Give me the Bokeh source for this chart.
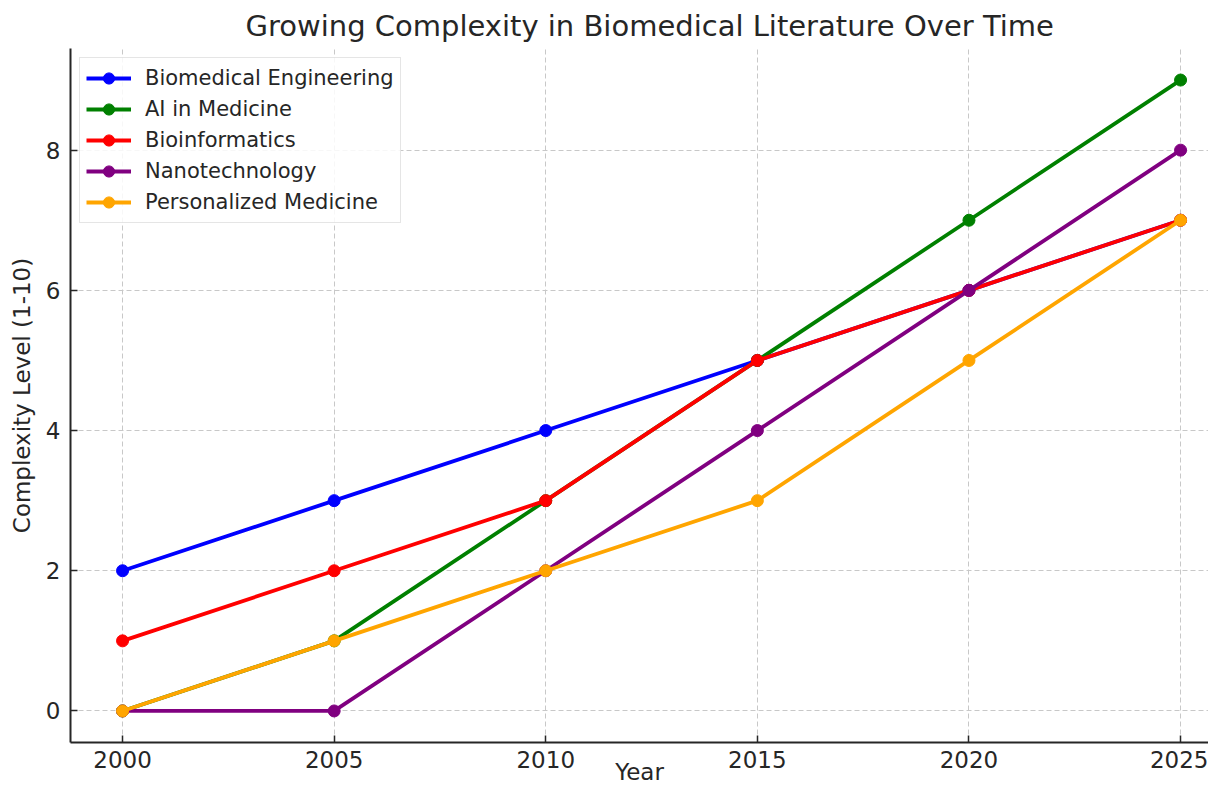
from bokeh.plotting import figure
from bokeh.models import Range1d, FixedTicker, Legend, LegendItem
from bokeh.embed import file_html
from bokeh.resources import INLINE

years = [2000, 2005, 2010, 2015, 2020, 2025]
biomedical_engineering = [2, 3, 4, 5, 6, 7]
ai_in_medicine = [0, 1, 3, 5, 7, 9]
bioinformatics = [1, 2, 3, 5, 6, 7]
nanotechnology = [0, 0, 2, 4, 6, 8]
personalized_medicine = [0, 1, 2, 3, 5, 7]

series = [
    ("Biomedical Engineering", biomedical_engineering, "#0000FF"),
    ("AI in Medicine", ai_in_medicine, "#008000"),
    ("Bioinformatics", bioinformatics, "#FF0000"),
    ("Nanotechnology", nanotechnology, "#800080"),
    ("Personalized Medicine", personalized_medicine, "#FFA500"),
]

FONT = "DejaVu Sans"
TXT = "#262626"

p = figure(width=1208, height=787, output_backend="svg", toolbar_location=None,
           x_range=Range1d(1998.77, 2025.66), y_range=Range1d(-0.45, 9.45),
           min_border_left=70, min_border_right=0, min_border_top=48, min_border_bottom=45)

p.title.text = "Growing Complexity in Biomedical Literature Over Time"
p.title.align = "left"
p.title.offset = 175
p.title.text_font = FONT
p.title.text_font_size = "29px"
p.title.text_font_style = "normal"
p.title.text_color = TXT
p.title.standoff = 12

p.outline_line_color = None
p.background_fill_color = "white"
p.border_fill_color = "white"

items = []
for name, vals, col in series:
    r1 = p.line(years, vals, line_color=col, line_width=3.8)
    r2 = p.scatter(years, vals, size=12, fill_color=col, line_color=col)
    items.append(LegendItem(label=name, renderers=[r1, r2]))

legend = Legend(items=items, location="top_left")
legend.label_text_font = FONT
legend.label_text_font_size = "21px"
legend.label_text_color = TXT
legend.glyph_width = 45
legend.glyph_height = 28
legend.label_height = 28
legend.spacing = 3
legend.padding = 6
legend.margin = 9
legend.label_standoff = 14
legend.border_line_color = "#cccccc"
legend.border_line_width = 1.5
legend.background_fill_alpha = 0.85
p.add_layout(legend)

for ax in (p.xaxis[0], p.yaxis[0]):
    ax.axis_line_color = TXT
    ax.axis_line_width = 2
    ax.major_tick_line_color = TXT
    ax.major_tick_line_width = 1.5
    ax.major_tick_in = 7
    ax.major_tick_out = 0
    ax.minor_tick_line_color = None
    ax.major_label_text_font = FONT
    ax.major_label_text_font_size = "23px"
    ax.major_label_text_color = TXT
    ax.axis_label_text_font = FONT
    ax.axis_label_text_font_size = "23px"
    ax.axis_label_text_font_style = "normal"
    ax.axis_label_text_color = TXT

p.xaxis.ticker = FixedTicker(ticks=years)
p.yaxis.ticker = FixedTicker(ticks=[0, 2, 4, 6, 8])
p.xaxis.axis_label = "Year"
p.yaxis.axis_label = "Complexity Level (1-10)"
p.xaxis.major_label_standoff = 8
p.yaxis.major_label_standoff = 10
p.xaxis.axis_label_standoff = -12
p.yaxis.axis_label_standoff = 8

for g in (p.xgrid[0], p.ygrid[0]):
    g.grid_line_color = "#c8c8c8"
    g.grid_line_dash = "5 3"
    g.grid_line_width = 1

open("out.html", "w").write(file_html(p, INLINE))
